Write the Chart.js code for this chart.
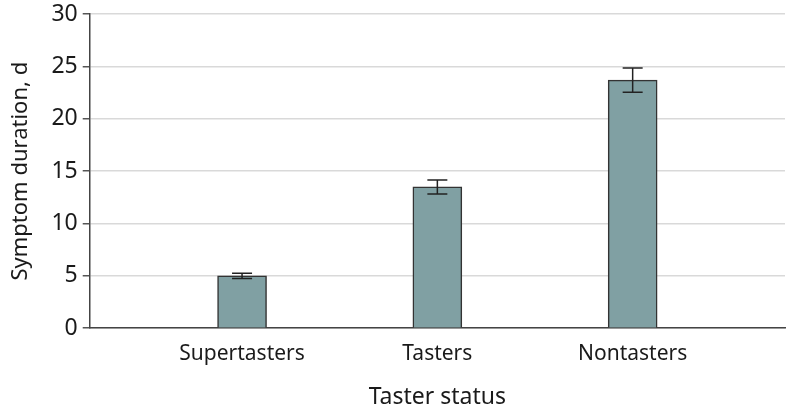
<!doctype html>
<html lang="en">
<head>
    <meta charset="utf-8">
    <title>Symptom duration by taster status</title>
    <style>
        * { margin: 0; padding: 0; }
        body { background: white; }
        .chartBox { width: 791px; height: 410px; }
    </style>
</head>
<body>
    <div class="chartBox">
        <canvas id="myChart"></canvas>
    </div>
    <script src="https://cdn.jsdelivr.net/npm/chart.js"></script>
    <script>
        // data
        const categories = ['Supertasters', 'Tasters', 'Nontasters']
        const durations = [5.0, 13.5, 23.7]
        const errors = [0.26, 0.67, 1.15]
        const yTicks = [0, 5, 10, 15, 20, 25, 30]

        const font = 'Noto Sans'

        // error bars drawn after the bars
        const errorBars = {
            id: 'errorBars',
            afterDatasetsDraw(chart) {
                const { ctx, scales: { x, y } } = chart
                ctx.save()
                ctx.strokeStyle = '#222'
                ctx.lineWidth = 1.5
                durations.forEach((v, i) => {
                    const px = x.getPixelForValue(i)
                    const top = y.getPixelForValue(v + errors[i])
                    const bot = y.getPixelForValue(v - errors[i])
                    ctx.beginPath()
                    ctx.moveTo(px, top)
                    ctx.lineTo(px, bot)
                    ctx.moveTo(px - 10, top)
                    ctx.lineTo(px + 10, top)
                    ctx.moveTo(px - 10, bot)
                    ctx.lineTo(px + 10, bot)
                    ctx.stroke()
                })
                ctx.restore()
            }
        }

        const data = {
            datasets: [{
                data: durations.map((v, i) => ({ x: i, y: v })),
                backgroundColor: '#80a0a3',
                borderColor: '#333',
                borderWidth: 1.5,
                barThickness: 49
            }]
        }

        const config = {
            type: 'bar',
            data,
            options: {
                responsive: true,
                maintainAspectRatio: false,
                animation: false,
                layout: { padding: { top: 0, right: 6, left: 4, bottom: -5 } },
                plugins: {
                    legend: { display: false },
                    tooltip: { enabled: false }
                },
                scales: {
                    x: {
                        type: 'linear',
                        min: -0.78,
                        max: 2.78,
                        offset: false,
                        afterBuildTicks(scale) {
                            scale.ticks = categories.map((c, i) => ({ value: i }))
                        },
                        ticks: {
                            callback: (v) => categories[v],
                            color: '#1a1a1a',
                            font: { family: font, size: 21 },
                            padding: 13,
                            maxRotation: 0
                        },
                        grid: { display: false, drawTicks: false },
                        border: { color: '#444', width: 1.5 },
                        title: {
                            display: true,
                            text: 'Taster status',
                            color: '#1a1a1a',
                            font: { family: font, size: 23 },
                            padding: { top: 4 }
                        }
                    },
                    y: {
                        min: 0,
                        max: 30,
                        afterBuildTicks(scale) {
                            scale.ticks = yTicks.map(v => ({ value: v }))
                        },
                        ticks: {
                            color: '#1a1a1a',
                            font: { family: font, size: 23, lineHeight: 0.8 },
                            padding: 5
                        },
                        grid: {
                            color: '#d9d9d9',
                            lineWidth: 1.5,
                            tickLength: 7,
                            tickColor: '#555'
                        },
                        border: { color: '#444', width: 1.5 },
                        title: {
                            display: true,
                            text: 'Symptom duration, d',
                            color: '#1a1a1a',
                            font: { family: font, size: 22 },
                            padding: { bottom: 12 }
                        }
                    }
                }
            },
            plugins: [errorBars]
        }

        const myChart = new Chart(document.getElementById('myChart'), config)
    </script>
</body>
</html>
